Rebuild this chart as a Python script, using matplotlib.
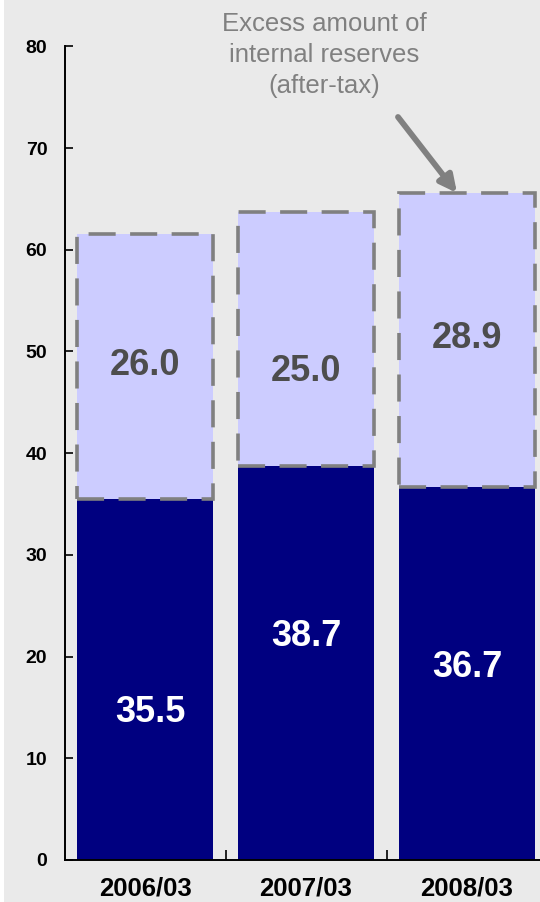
import matplotlib
matplotlib.use("Agg")
import matplotlib.pyplot as plt
from matplotlib.patches import Rectangle

plt.rcParams['font.family'] = ['Liberation Sans', 'DejaVu Sans']

# Fiscal year-ends and the two stacked components
periods = ["2006/03", "2007/03", "2008/03"]
base_values = [35.5, 38.7, 36.7]
excess_values = [26.0, 25.0, 28.9]
y_ticks = [0, 10, 20, 30, 40, 50, 60, 70, 80]
note_text = "Excess amount of\ninternal reserves\n(after-tax)"

# Label placement (data units)
base_label_y = [14.5, 22.0, 18.9]
base_label_dx = [0.03, 0.0, 0.0]
excess_label_y = [48.6, 48.0, 51.3]

BG = "#EAEAEA"
NAVY = "#000080"
LAVENDER = "#CCCCFF"
GRAY = "#808080"

fig = plt.figure(figsize=(5.40, 9.02), dpi=100, facecolor=BG)
# thin white strip along the left edge
fig.patches.append(Rectangle((0, 0), 4 / 540, 1, transform=fig.transFigure,
                             facecolor="white", edgecolor="none", zorder=0))

ax = fig.add_axes([64.7 / 540, 42 / 902, 482.7 / 540, 813.7 / 902])
ax.set_facecolor(BG)

x = list(range(len(periods)))
width = 0.846
ax.bar(x, base_values, width=width, color=NAVY, zorder=2)
ax.bar(x, excess_values, width=width, bottom=base_values, color=LAVENDER,
       edgecolor=GRAY, linewidth=2.6, linestyle=(0, (7.5, 4.0)), zorder=3)

for i in x:
    ax.text(i + base_label_dx[i], base_label_y[i], f"{base_values[i]:.1f}",
            ha="center", va="center", color="white", fontsize=26,
            fontweight="bold", zorder=5)
    ax.text(i, excess_label_y[i], f"{excess_values[i]:.1f}",
            ha="center", va="center", color="#4D4D4D", fontsize=26,
            fontweight="bold", zorder=5)

ax.set_xlim(-0.5, 2.5)
ax.set_ylim(0, 80)

ax.set_yticks(y_ticks)
ax.set_yticklabels([str(v) for v in y_ticks], fontsize=14, fontweight="bold")
ax.tick_params(axis="y", direction="in", length=6, width=1.2, pad=12.5)

ax.set_xticks(x)
ax.set_xticklabels(periods, fontsize=18.5, fontweight="bold")
ax.tick_params(axis="x", which="major", length=0, pad=12)
ax.set_xticks([0.5, 1.5], minor=True)
ax.tick_params(axis="x", which="minor", direction="in", length=7, width=1.2)

for side in ("top", "right"):
    ax.spines[side].set_visible(False)
for side in ("left", "bottom"):
    ax.spines[side].set_linewidth(1.4)
    ax.spines[side].set_color("black")

# Callout pointing at the excess segment
fig.text(324 / 540, 1 - 55 / 902, note_text, ha="center", va="center",
         fontsize=18.5, color=GRAY, linespacing=1.38)
ax.annotate("", xy=(457 / 540, 1 - 193 / 902), xycoords="figure fraction",
            xytext=(398 / 540, 1 - 117 / 902), textcoords="figure fraction",
            arrowprops=dict(arrowstyle="-|>,head_length=1.0,head_width=0.5",
                            color=GRAY, lw=4.2, shrinkA=0, shrinkB=0),
            annotation_clip=False, zorder=6)

fig.savefig("out.png", dpi=100, facecolor=BG)
